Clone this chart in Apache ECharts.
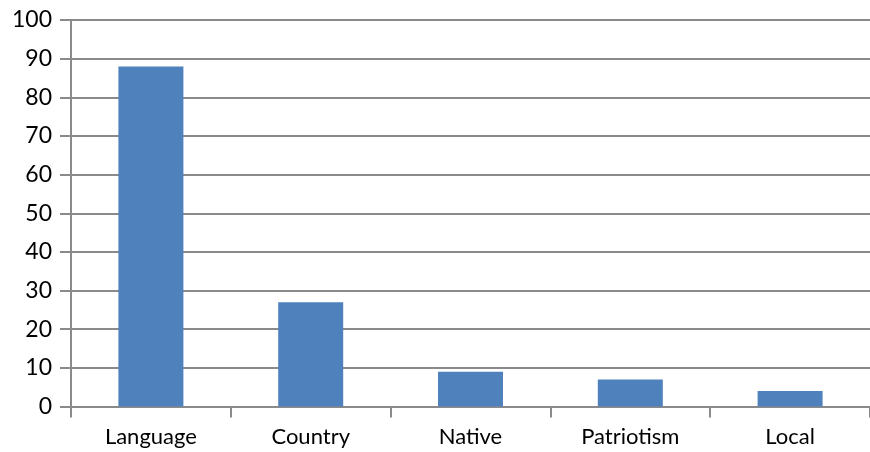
<!DOCTYPE html>
<html>
<head>
<meta charset="utf-8">
<script src="https://cdn.jsdelivr.net/npm/echarts@6/dist/echarts.min.js"></script>
<style>
html,body{margin:0;padding:0;background:#fff;}
#c{width:870px;height:452px;}
</style>
</head>
<body>
<div id="c"></div>
<script>
var categories = ["Language", "Country", "Native", "Patriotism", "Local"];
var values = [88, 27, 9, 7, 4];
var yTicks = [0, 10, 20, 30, 40, 50, 60, 70, 80, 90, 100];

var chart = echarts.init(document.getElementById('c'), null, {renderer: 'canvas'});
var gridColor = '#8a8a8a';
chart.setOption({
  animation: false,
  grid: {left: 71, top: 20, bottom: 45.5, right: -7},
  xAxis: {
    type: 'category',
    data: categories,
    boundaryGap: true,
    axisLine: {show: true, lineStyle: {color: gridColor, width: 2}},
    axisTick: {show: true, length: 11, lineStyle: {color: gridColor, width: 2}},
    axisLabel: {color: '#000', fontFamily: 'Lato', fontSize: 22, margin: 19}
  },
  yAxis: {
    type: 'value',
    min: yTicks[0],
    max: yTicks[yTicks.length - 1],
    interval: 10,
    axisLine: {show: true, lineStyle: {color: gridColor, width: 2}},
    axisTick: {show: true, length: 11, lineStyle: {color: gridColor, width: 2}},
    splitLine: {show: true, lineStyle: {color: gridColor, width: 2}},
    axisLabel: {color: '#000', fontFamily: 'Lato', fontSize: 23, margin: 19}
  },
  series: [{
    type: 'bar',
    data: values,
    barWidth: 65,
    itemStyle: {color: '#4F81BD'}
  }]
});
</script>
</body>
</html>
